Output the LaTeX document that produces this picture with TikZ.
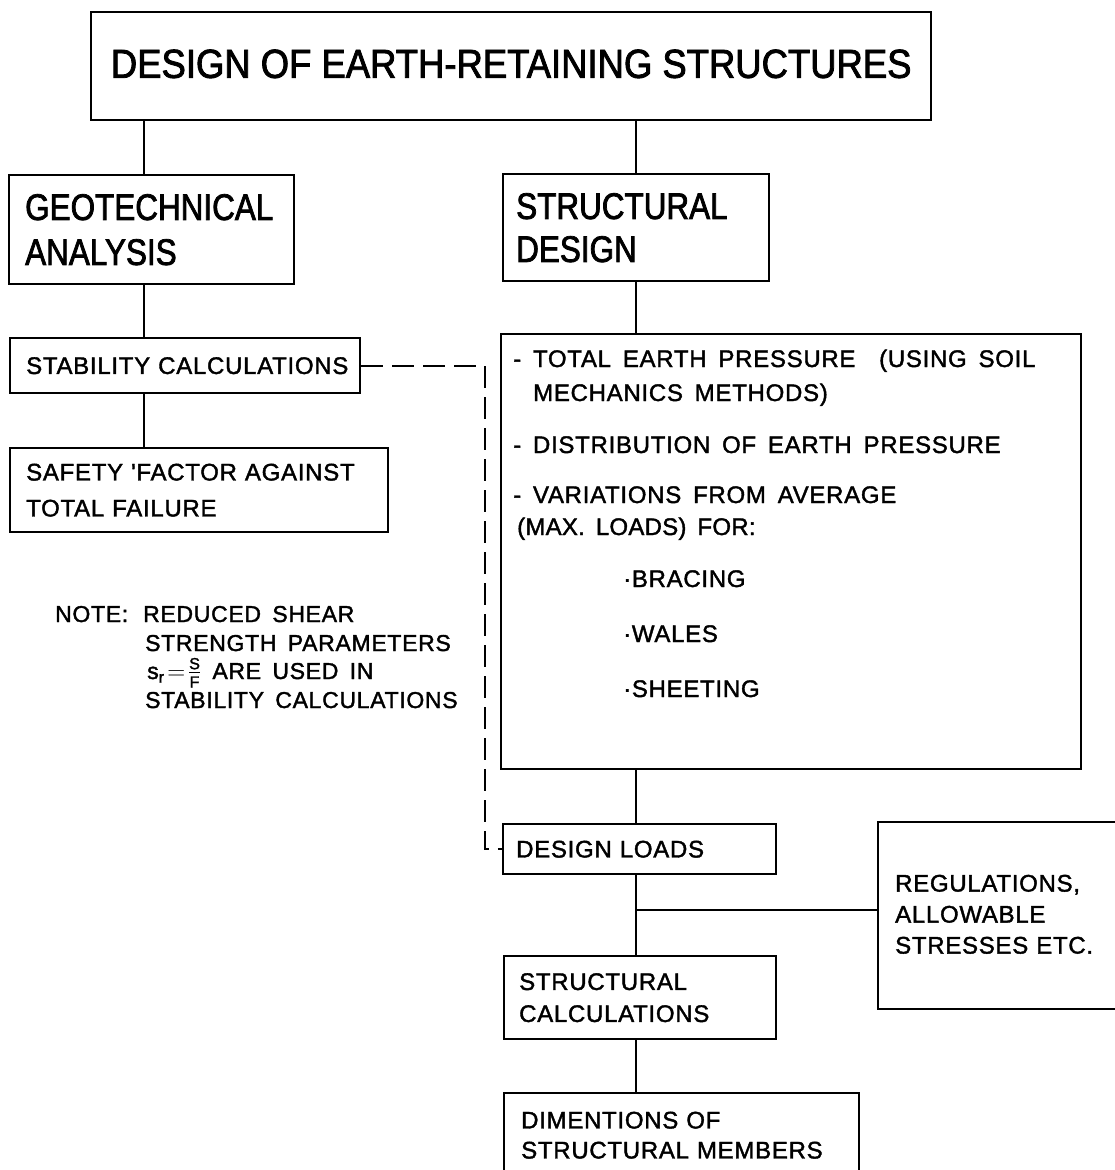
\documentclass[tikz,border=0pt]{standalone}
\usepackage{fontspec}
\usepackage{amsmath}
\usetikzlibrary{calc}
% stencil-like lettering: spaced small capitals, condensed large ones
\newfontfamily\smallletter[LetterSpace=3,WordSpace=1.6,FakeBold=1.6]{Liberation Sans}
\newfontfamily\bigletter[FakeStretch=0.85,FakeBold=2]{Liberation Sans}
\newfontfamily\titleletter[FakeStretch=0.9,FakeBold=2]{Liberation Sans}
\newcommand{\widespaces}{\spaceskip=11pt plus 2pt minus 1pt\relax}
\begin{document}
\begin{tikzpicture}[x=1pt,y=-1pt,
  frame/.style={draw, line width=2.4pt, anchor=north west, align=left,
    inner ysep=0pt, font=\smallletter\fontsize{24}{32}\selectfont\widespaces},
  bigframe/.style={frame, font=\bigletter\fontsize{37}{45}\selectfont},
  link/.style={line width=2.4pt},
  fdash/.style={line width=2.2pt, dash pattern=on 22pt off 9pt},
  lbl/.style={anchor=base west, inner sep=0pt, font=\smallletter\fontsize{24}{32}\selectfont},
  notelbl/.style={lbl, font=\smallletter\fontsize{23}{29}\selectfont}
]
\useasboundingbox (0,0) rectangle (1115,1170);

% guide lines for the two vertical trunks and the dashed return
\coordinate (lx) at (144,0);
\coordinate (rx) at (636,0);
\coordinate (dx) at (485,0);

% title
\node[frame, font=\titleletter\fontsize{40.5}{44}\selectfont, align=center,
      inner xsep=0pt, minimum width=840pt, minimum height=108pt] (title) at (90,11)
  {\raisebox{5pt}{DESIGN OF EARTH-RETAINING STRUCTURES}};

% left column
\node[bigframe, inner xsep=16pt, text width=253pt, minimum height=109pt] (geo) at (8,174)
  {GEOTECHNICAL\\ANALYSIS};
\node[frame, inner xsep=16pt, text width=318pt, minimum height=55pt] (stab) at (9,337)
  {\mbox{STABILITY CALCULATIONS}};
\node[frame, inner xsep=16pt, text width=346pt, minimum height=84pt,
      font=\smallletter\fontsize{24}{36}\selectfont\widespaces] (safety) at (9,447)
  {\mbox{SAFETY 'FACTOR AGAINST}\\TOTAL FAILURE};

% right column
\node[bigframe, inner xsep=13pt, text width=240pt, minimum height=107pt,
      font=\bigletter\fontsize{37}{43}\selectfont] (struc) at (502,173)
  {STRUCTURAL\\DESIGN};
\node[frame, inner sep=0pt, minimum width=580pt, minimum height=435pt] (big) at (500,333) {};
\node[frame, inner xsep=13pt, text width=247pt, minimum height=50pt] (dl) at (502,823)
  {DESIGN LOADS};
\node[frame, inner xsep=17pt, text width=224pt, minimum height=187pt,
      font=\smallletter\fontsize{24}{31}\selectfont\widespaces] (reg) at (877,821)
  {\raisebox{3pt}{REGULATIONS,}\\\raisebox{3pt}{ALLOWABLE}\\\raisebox{3pt}{STRESSES ETC.}};
\node[frame, inner xsep=15pt, text width=242pt, minimum height=83pt] (sc) at (503,955)
  {STRUCTURAL\\CALCULATIONS};
\node[frame, inner xsep=17pt, text width=321pt, minimum height=84pt,
      font=\smallletter\fontsize{24}{30}\selectfont\widespaces] (dim) at (503,1092)
  {DIMENTIONS OF\\STRUCTURAL MEMBERS};

% contents of the earth pressure box
\node[lbl] (p1) at (513,367) {- TOTAL EARTH PRESSURE\ \ (USING SOIL};
\node[lbl] (p2) at (533,401) {MECHANICS METHODS)};
\node[lbl] (p3) at (513,453) {- DISTRIBUTION OF EARTH PRESSURE};
\node[lbl] (p4) at (513,503) {- VARIATIONS FROM AVERAGE};
\node[lbl, font=\smallletter\fontsize{24}{32}\selectfont\addfontfeature{LetterSpace=1}] (p5) at (517,535) {(MAX. LOADS) FOR:};
\node[lbl] (b1) at (623,587) {·BRACING};
\node[lbl] (b2) at (623,642) {·WALES};
\node[lbl] (b3) at (623,697) {·SHEETING};

% note on the reduced strength parameters
\node[notelbl] (n0) at (55,622) {NOTE:};
\node[notelbl] (n1) at (143,622) {REDUCED SHEAR};
\node[notelbl] (n2) at (145,651) {STRENGTH PARAMETERS};
\node[notelbl] (n3) at (147,679)
  {\(\text{s}_{\text{r}}\!=\!\tfrac{\scriptstyle\text{S}}{\scriptstyle\text{F}}\) ARE USED IN};
\node[notelbl] (n4) at (145,708) {STABILITY CALCULATIONS};

% connectors
\draw[link] (title.south -| lx) -- (geo.north -| lx);
\draw[link] (geo.south -| lx) -- (stab.north -| lx);
\draw[link] (stab.south -| lx) -- (safety.north -| lx);
\draw[link] (title.south -| rx) -- (struc.north -| rx);
\draw[link] (struc.south -| rx) -- (big.north -| rx);
\draw[link] (big.south -| rx) -- (dl.north -| rx);
\draw[link] (dl.south -| rx) -- (sc.north -| rx);
\draw[link] (sc.south -| rx) -- (dim.north -| rx);
\coordinate (tee) at (636,910);
\draw[link] (tee) -- (tee -| reg.west);
\draw[fdash] (stab.east) -- (stab.east -| dx) |- (dl.west);
\end{tikzpicture}
\end{document}
